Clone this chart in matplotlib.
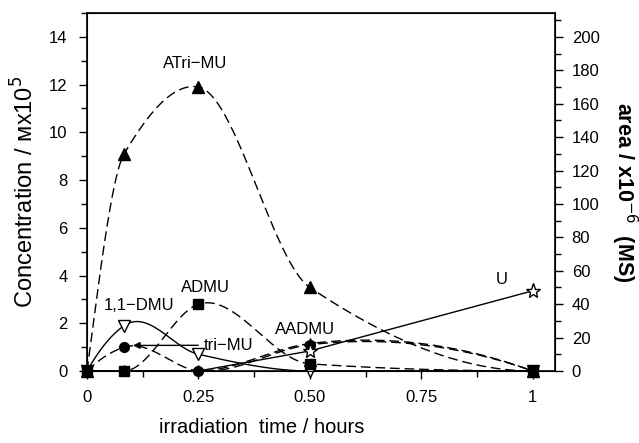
import numpy as np
import matplotlib
matplotlib.use("Agg")
import matplotlib.pyplot as plt
from matplotlib.ticker import MultipleLocator

plt.rcParams['font.family'] = ['Liberation Sans', 'DejaVu Sans']

# irradiation times (hours)
t = [0, 1 / 12, 0.25, 0.5, 1]

# concentrations / M x10^5
atri_mu = [0, 9.1, 11.9, 3.5, 0]
admu = [0, 0, 2.8, 0.3, 0]
dmu11 = [0, 1.9, 0.7, 0, 0]
tri_mu = [0, 1.0, 0, 1.1, 0]
aadmu = [0, 0, 0, 1.15, 0]

# U measured by MS, area x10^-6 (right axis)
t_u = [0, 1 / 12, 0.25, 0.5, 1]
u_area = [0, 0, 0, 12, 48]


def smooth(x, y, n=300):
    """Piecewise cubic Hermite through the points (pchip-like slopes,
    three-point slopes at local extrema so the peaks round off)."""
    x = np.asarray(x, float)
    y = np.asarray(y, float)
    h = np.diff(x)
    d = np.diff(y) / h
    k = len(x)
    m = np.zeros(k)
    for i in range(1, k - 1):
        if d[i - 1] * d[i] > 0:
            w1 = 2 * h[i] + h[i - 1]
            w2 = h[i] + 2 * h[i - 1]
            m[i] = (w1 + w2) / (w1 / d[i - 1] + w2 / d[i])
        elif d[i - 1] * d[i] < 0:
            m[i] = (h[i] * d[i - 1] + h[i - 1] * d[i]) / (h[i - 1] + h[i])
    # end slopes
    for i, (hh0, hh1, dd0, dd1) in ((0, (h[0], h[1], d[0], d[1])),
                                    (k - 1, (h[-1], h[-2], d[-1], d[-2]))):
        s = ((2 * hh0 + hh1) * dd0 - hh0 * dd1) / (hh0 + hh1)
        if np.sign(s) != np.sign(dd0):
            s = 0
        elif np.sign(dd0) != np.sign(dd1) and abs(s) > abs(3 * dd0):
            s = 3 * dd0
        m[i] = s
    xs = np.linspace(x[0], x[-1], n)
    idx = np.clip(np.searchsorted(x, xs) - 1, 0, k - 2)
    hh = h[idx]
    s = (xs - x[idx]) / hh
    h00 = 2 * s ** 3 - 3 * s ** 2 + 1
    h10 = s ** 3 - 2 * s ** 2 + s
    h01 = -2 * s ** 3 + 3 * s ** 2
    h11 = s ** 3 - s ** 2
    ys = (h00 * y[idx] + h10 * hh * m[idx] + h01 * y[idx + 1]
          + h11 * hh * m[idx + 1])
    return xs, ys


fig = plt.figure(figsize=(6.39, 4.43), dpi=100)
ax = fig.add_axes([87 / 639, 1 - 371 / 443, 468 / 639, 358 / 443])

dash = (7, 3.5)
series = [
    (dmu11, 'v', 'w', '-'),
    (aadmu, '*', 'k', '--'),
    (tri_mu, 'o', 'k', '--'),
    (atri_mu, '^', 'k', '--'),
    (admu, 's', 'k', '--'),
]
for vals, mk, fc, ls in series:
    xs, ys = smooth(t, vals)
    if ls == '--':
        ax.plot(xs, ys, color='k', lw=1, dashes=dash)
    else:
        ax.plot(xs, ys, color='k', lw=1)
    ax.plot(t, vals, ls='none', marker=mk, ms=8 if mk in '^v*' else 7,
            mfc=fc, mec='k', mew=1, clip_on=False, zorder=5)

ax.set_xlim(0, 1.05)
ax.set_ylim(0, 15)
ax.set_xticks([0, 0.25, 0.5, 0.75, 1])
ax.set_xticklabels(['0', '0.25', '0.50', '0.75', '1'])
ax.xaxis.set_minor_locator(MultipleLocator(0.125))
ax.set_yticks(range(0, 15, 2))
ax.yaxis.set_minor_locator(MultipleLocator(1))
ax.tick_params(which='major', length=6, width=1, labelsize=12)
ax.tick_params(which='minor', length=4, width=1)
ax.tick_params(axis='x', pad=8)
ax.tick_params(axis='y', pad=8)
for s in ax.spines.values():
    s.set_linewidth(1.2)

ax.set_ylabel('Concentration / \u1d0dx10$^{5}$', fontsize=17)
ax.yaxis.set_label_coords(-0.132, 0.5)
ax.yaxis.label.set_va('center')
ax.set_xlabel('irradiation  time / hours', fontsize=14.5)
ax.xaxis.set_label_coords(0.374, -0.159)
ax.xaxis.label.set_va('center')

# right axis: MS area
ax2 = ax.twinx()
ax2.set_ylim(0, 15 * 200 / 14)
ax2.set_yticks(range(0, 201, 20))
ax2.yaxis.set_minor_locator(MultipleLocator(10))
ax2.tick_params(which='major', length=6, width=1, labelsize=12, pad=6)
ax2.tick_params(which='minor', length=4, width=1)
ax2.plot(t_u, u_area, color='k', lw=1)
ax2.plot(t_u[-2:], u_area[-2:], ls='none', marker='*', ms=11, mfc='w',
         mec='k', mew=1, clip_on=False, zorder=5)
ax2.set_ylabel('area / x10$^{-6}$  (MS)', fontsize=15.5, fontweight='bold',
               rotation=270)
ax2.yaxis.set_label_coords(1.148, 0.5)
ax2.yaxis.label.set_va('center')

# labels
ax.text(0.242, 12.9, 'ATri\u2212MU', fontsize=12, ha='center', va='center')
ax.text(0.265, 3.5, 'ADMU', fontsize=12, ha='center', va='center')
ax.text(0.117, 2.75, '1,1\u2212DMU', fontsize=12, ha='center', va='center')
ax.text(0.49, 1.75, 'AADMU', fontsize=12, ha='center', va='center')
ax.text(0.93, 3.83, 'U', fontsize=12, ha='center', va='center')
ax.annotate('tri\u2212MU', xy=(0.103, 1.07), xytext=(0.262, 1.08),
            fontsize=12, ha='left', va='center',
            arrowprops=dict(arrowstyle='-|>', color='k', lw=1,
                            shrinkA=2, shrinkB=0, mutation_scale=10))

fig.savefig('out.png', dpi=100)
